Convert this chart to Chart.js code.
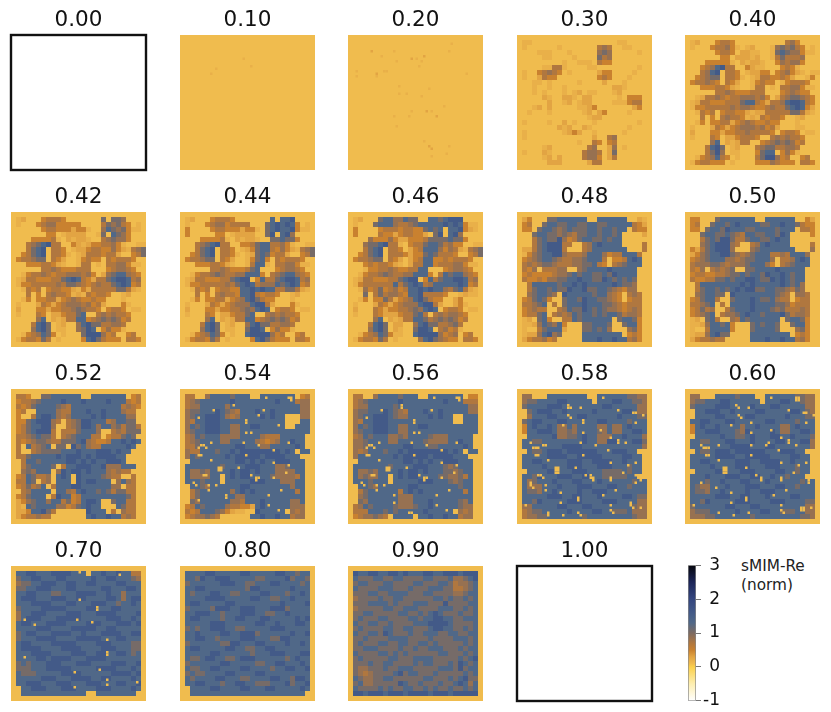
<!DOCTYPE html>
<html lang="en">
<head>
  <meta charset="UTF-8" />
  <title>sMIM-Re maps</title>
  <script src="https://cdn.jsdelivr.net/npm/chart.js"></script>
  <style>
    body { margin: 0; background: #fff; font-family: 'DejaVu Sans', sans-serif; }
    #page { position: relative; width: 831px; height: 712px; overflow: hidden; }
    canvas { position: absolute; }
    #cbarLabel { position: absolute; left: 741px; top: 557px; font-size: 15.3px; line-height: 19px; color: #222; }
  </style>
</head>
<body>
  <div id="page">
    <div id="cbarLabel">sMIM-Re<br />(norm)</div>
  </div>
  <script>
    // values, on a 27x27 grid (the original is about 54x54)
    // each digit is a level, see levelValues
    const levelValues = [0.1, 0.2, 0.3, 0.5, 0.7, 0.85, 1.05, 1.3, 1.6, 2.0];

    const cmapValues = [-1, -0.5, 0, 0.1, 0.3, 0.5, 0.7, 1, 1.3, 1.6, 2, 2.5, 3];
    const cmapColors = ['#ffffff', '#fdeeb0', '#fbd04a', '#f0bc4e', '#e2a443', '#c9812f', '#b0773f', '#7d6b62', '#506888', '#435a88', '#34467f', '#1c2558', '#05060c'];

    const colorbarTicks = [-1, 0, 1, 2, 3];

    const panelLabels = ['0.00', '0.10', '0.20', '0.30', '0.40', '0.42', '0.44', '0.46', '0.48', '0.50', '0.52', '0.54', '0.56', '0.58', '0.60', '0.70', '0.80', '0.90', '1.00'];

    const rows030 = [
      '000000000000000000000000000','011000000000000000001100000','010000001000000045400110000','000011100010000056500000100',
      '000001100001000064500000000','000000000100111043300000000','000001144100001100000000100','010034543010000023300001000',
      '010024330000000034300010000','000110100000100002000100000','000100100100000000022100000','000101000101201100012000000',
      '000002100221022000001033300','000000200120122000011134400','000120200000112300000002300','001000100000012023000010000',
      '000000000000001220000000000','010000100201000100000000100','000000002120021000000010000','010000000123200100000100000',
      '010000000000000200450000000','000000000000100430340000000','000001200000004500250100000','010002100000045540260000000',
      '000001202000045530240000000','000000222000002440000000000','000000000000000000000000000'];

    const rows040 = [
      '000000000000000000000000000','012000344300000000004530000','010003445310120001565643010','000000344302211001676553110',
      '000000033022212001464445000','000033333102122100354553000','000345784400321100034310000','000457804430122330345321011',
      '003456604431012443343200130','034454304320013433013444300','000333443210014401044553110','000000445433344400034543300',
      '001244543445554530245665430','012443334446774324457887430','013344444545543345446787320','001434034433212244444664210',
      '000403045443121434430012000','001303344234543343300010000','010002432345554534200011000','020003323344544443034430110',
      '010004302234443004545443000','000005702124400345656534000','000047860120004566445540000','000046850110003677035310000',
      '001345743010004688534003400','013443330100003335433304430','000000000000000000000000000'];

    const rows042 = [
      '000000000000000000000000000','012000344430000000606650000','010003455333330000465643010','000000344333233100576563110',
      '000000033012222001607653000','000033334102122100456553000','000456784400321233445310011','000467804430122344335321456',
      '003467804431012444344200346','034456604320013433043444300','000333443210014401044553110','000000445433344400034554300',
      '001344543445554530256775430','012443334467874324467887450','013344444546654345446787340','001434034433213244444664210',
      '000403045443121434430012000','001303344234543343300010000','010002432345554534200031000','020003323344565443034430110',
      '010004302234467004545443000','000005702124477345656534000','000047860120057866445540000','000057860110056870353310000',
      '001345763010006888534003400','013443640100003786433304430','000000000000000000000000000'];

    const rows044 = [
      '000000000000000000000000000','012000344430000000707780000','010003455344440006787873010','030000344333233106787783110',
      '030000033012222006807850000','000033334102122100667663000','000456784400334677445310011','000467804430123677435321456',
      '003467804431012676344200346','034456604320013673043444300','000333443210014771044553110','000000445433346700034554300',
      '001344565445577730456775430','012443334467880374467887450','013344444546787455576787340','001434034433778787744664210',
      '000403045443778434430012000','001303344234578643300010000','010002432345557884200031000','020003323344565787034430110',
      '010004302234467004545443000','000005702124477345656534000','000047860120057866445540000','000057860110068870353310000',
      '001345763010078888534003400','013443640100003786433304430','000000000000000000000000000'];

    const rows046 = [
      '000000000000000000000000000','012000677557660077678880000','010006777544567777787873110','030000344434433676707783210',
      '030000433234433206807850000','000053335322333466667663000','000566784410344677645330011','000467804430234777535421456',
      '003467804443233676444300346','034456604320234773343444300','000343443210244773444553110','000133445433447700034554300',
      '001344565445577730476775430','012443334467880374677887450','013444444746787457777787340','001534634534778787754674210',
      '000604645543778444430012110','001303364234578643300230000','010002432345557884200231000','020004323344565787034430110',
      '010004322234467404545543000','000005702124477645656534000','000047860220057866445640000','000057860210068870453410000',
      '001345763110078888534503400','013443640100005786543304430','000000000000000000000000000'];

    const rows048 = [
      '000000000000000000000000000','023000667777770077777700210','034006776677667766777774320','033067765676667767767704330',
      '000677665654667767767000020','000467668534677667677000000','000467888440045787777000040','022467888400045777777700040',
      '013567788544457775344777400','034567765445567774033478700','045456654445566743045677700','043504445500567777877777000',
      '034333345567677667687777000','043343556677877668767676000','004777776778787777787665000','004677676687786677654355000',
      '005677650877777677543045400','034676300677687766543034400','044567040677787776654344400','034544004576687676554345400',
      '034467045457677676776455400','012067300447677777706776300','011257657300066777600677300','010046777200066767500056300',
      '012257856000077777777034300','023445340000077787787745300','000000000000000000000000000'];

    const rows050 = [
      '000000000000000000000000000','033000677777770077777700320','034006776787777667787764330','033067768777667777677704430',
      '000677667654776677687000030','000467688644677667877000000','000567888540045787777000040','032467888500056777777700050',
      '023567788654567774454777500','034567775545667775044578700','045556654555677753045677700','043504545600667777877777000',
      '034433445667677687787677000','043344667677887668787677000','004777777778787777787675000','004677676787886677665465000',
      '005677660877777777654055400','034677400677787667544034400','044567040777787777665344400','034645004677787776564445400',
      '034567045567877677786455400','012067400547677777706776300','011257767300067677600677300','010047777300067777600056300',
      '012257866000077777777034300','023445440000077787787745300','000000000000000000000000000'];

    const rows052 = [
      '000000000000000000000000000','044300667777770077777770340','034456777787778777787774340','043467777654777777777745430',
      '034007777544777877877754400','030047887545777787877775500','033678885404568877745776600','034677885004568875775646640',
      '034678884044467775004546660','044567664045677744034467600','043456654466678543347787870','040745670660867544777778700',
      '040045666677787778887877000','044677777878887878888770000','004776777778878787788870000','004677776047788877855577700',
      '005657770587887877754544000','034764450787087777654400400','044760450777087887770575400','034645704777887777775504400',
      '004577770775478776764664400','034677704877347777777776400','023567757746347887006774400','021767777553467877000764400',
      '022377864000000877704054400','023445440000000787787745400','000000000000000000000000000'];

    const rows054 = [
      '000000000000000000000000000','044005777767770077777770340','045677777787777777787774550','045577777577777777777777550',
      '056677787654777877877777550','056778887545777787877000550','054778887777777777777000770','057678887755778877777007770',
      '056778887755777777777777770','045767775555777754447777700','045677775577777543457787700','044677777778877755777778700',
      '054477767787888888887870770','057677777878888878888777000','007777777778878787788877700','077777776777788877755677700',
      '075565777787887877755557700','075555770787887777655554700','077767770777778887775557700','007765777777887777777757700',
      '004677777757878777777774700','004677777775577777777777700','006577777755477787777755700','034767777544332787777755500',
      '043477765321100877777054500','034556540000007787787745500','000000000000000000000000000'];

    const rows056 = [
      '000000000000000000000000000','044005777767770077777770330','045677777787777777787774440','045577777677777777777777550',
      '056677787654777877877777550','056778887655777787877007770','054778887777777777777007770','057678887755778877777777770',
      '056778887755777777777777770','045767775565777765557777700','055677775577777655557787700','055677777778877766777778700',
      '054577767787888888887870770','057777777878888878888777000','007777777778878787788877700','077777776777788877765677700',
      '075565777787887877766567700','075655770787887777665564700','077767770777778887776567700','007765777777887777777767700',
      '004677777747878777777774700','005677777755577777777777700','006577777755577787777765700','045767777655567787777765500',
      '044477767677777877777054500','034556540777707787787745500','000000000000000000000000000'];

    const rows058 = [
      '000000000000000000000000000','055000777777770077777766550','056677778877777077788776650','067777888777777778877777550',
      '006788877877777877777887550','005777887777887777778777660','067887778877777788777767770','037877875575777755755787770',
      '037788875565777765755778870','007777785566787755577877750','077667777777787755887778860','077777777888877777777777750',
      '007667888788888877788877000','077777888877888887777887700','077887777788877888877877700','077778777788877788877767700',
      '007777887778887776666767700','077687778887788776666677000','075677787778877787777776770','075557778777888777887767770',
      '076657787777877888777777770','077777888778877787777887660','077687777788877778887777550','055777778877788777777776550',
      '045667777787777887766675550','045566777777767777777776550','000000000000000000000000000'];

    const rows060 = [
      '000000000000000000000000000','055000777767770077777766550','056677788777777077788776550','067777888777787778877777550',
      '007788877877778877777887650','007777887777887777778777660','077887778877777788777767770','037877877775778777755787770',
      '037788877765877778755778870','007777787766787778877877760','077667778877787777887778850','077777777888877788777777750',
      '007667888788888877788877000','077777888877888887777887700','077887777788877888877877700','077778777788877788877767700',
      '007777887778887777887767700','077787778887788778776777000','077767787778877787777776770','076557778777888777887767770',
      '076657787777877888777777770','077777888778877787777887770','077687777788877778887777660','067777778877788777777777550',
      '056667777787777887766677550','055566777777767777777776650','000000000000000000000000000'];

    const rows070 = [
      '000000000000000000000000000','077887778888777077877877440','067788777887777787788777650','056677888778877887777887770',
      '066778887778877777887778870','077887776677788887787757770','078887778887788777788757880','077788887778877788877677870',
      '067777888887777887778877770','057788877778887778888777780','057888777888887777788877870','078877788887777888777888780',
      '077778887777888887788777770','067887778888778777888877880','067778888777788888777887770','078877778888877778887777660',
      '078888777788887777888777660','077788887777888778877887670','077778878888777888877777770','067677788877788877778887780',
      '066677788888777778888777870','076667777788887777778888780','077777888777888877887777870','077888777888777888777887780',
      '007788877788877778887777870','007777777777777007777777700','000000000000000000000000000'];

    const rows080 = [
      '000000000000000000000000000','077778877777887777788776770','077687788877777667777867760','067777778887766777887777670',
      '077887777777768877777787770','076777887766777788777677870','077778888777778877667787770','078877777887777777778777780',
      '067777688877888777888677770','077888776777888776677877770','078877776778877788777778780','077777888777777887787778870',
      '067677888776677777888777770','077877778877888677777787780','077887767777888777668877770','067777776688777887777877870',
      '078877777887766778877777770','077777887777776777888777880','076678877667888777777678770','067777778877777667788777870',
      '076677887777887777677887780','067667777887777887777777770','076777788777667777887768870','077887776778877666777867780',
      '007777887777887778877777870','007777777777777777777777700','000000000000000000000000000'];

    const rows090 = [
      '000000000000000000000000000','087788778878777887788878880','076667766776666776667556780','067766677666677666776455670',
      '076666777666766677766445670','066677667777666776666556770','056666766776666667767667670','066677776766677766686666770',
      '056666677667776666777667670','066776666677667678766676670','067666776666776778877667770','076677667666677788887666670',
      '067666677667766678877667670','076677687666766777667766770','066766667777666676666777670','067666776677667767666667670',
      '066777666676676677766676770','076666776767666666776667670','067666667766677776666676780','066676677666676776667687670',
      '065566676677766666777686770','065456666786776667666667670','076556677666666776667678660','067556666687667666766787570',
      '076666767667766767667667670','088788878887888878887888880','000000000000000000000000000'];

    // single cells on the fine 54x54 grid: col, row, level
    const dots010 = [[12, 15, 1], [14, 13, 1], [25, 9, 1], [28, 12, 1]];
    const dots020 = [[41, 3, 1], [40, 6, 1], [9, 6, 2], [13, 8, 1], [18, 6, 1], [19, 10, 1], [25, 9, 2], [27, 9, 1], [30, 8, 2], [29, 10, 1], [28, 12, 1],
      [3, 14, 1], [3, 16, 1], [11, 15, 2], [11, 16, 1], [14, 14, 1], [15, 14, 1], [47, 15, 1], [20, 20, 1], [20, 23, 1], [23, 23, 1], [32, 21, 1], [29, 24, 1],
      [38, 28, 1], [25, 30, 1], [24, 32, 1], [31, 30, 2], [33, 30, 1], [35, 32, 2], [18, 32, 1], [19, 36, 1], [30, 42, 1], [32, 44, 2], [33, 45, 2], [40, 44, 1], [39, 47, 1], [33, 48, 1]];
    const dots054 = [[34, 3, 0], [43, 3, 0], [44, 3, 0], [44, 4, 0], [13, 8, 0], [33, 8, 0], [21, 6, 0], [7, 11, 0], [31, 10, 0], [26, 12, 0], [26, 13, 0], [26, 17, 0], [28, 17, 0],
      [39, 14, 0], [25, 21, 0], [31, 22, 0], [43, 21, 0], [12, 21, 0], [8, 22, 0], [9, 22, 0], [10, 23, 0], [7, 23, 0], [37, 24, 0], [7, 26, 0], [8, 26, 0], [26, 26, 0], [12, 28, 0],
      [37, 29, 0], [43, 30, 0], [15, 31, 0], [16, 31, 0], [15, 32, 0], [16, 32, 0], [23, 31, 0], [42, 33, 0], [28, 34, 0], [30, 35, 0], [31, 35, 0], [30, 36, 0], [37, 35, 0], [9, 34, 0], [10, 34, 0],
      [5, 37, 0], [6, 38, 0], [11, 38, 0], [14, 38, 0], [11, 40, 0], [18, 42, 0], [35, 42, 0], [40, 40, 0], [7, 44, 0], [18, 43, 0], [35, 46, 0], [39, 48, 0], [50, 47, 0]];
    const dots056 = [[34, 3, 0], [43, 3, 0], [44, 3, 0], [44, 4, 0], [13, 8, 0], [33, 8, 0], [21, 6, 0], [21, 7, 0], [7, 11, 0], [26, 12, 0], [26, 13, 0], [26, 17, 0], [28, 17, 0],
      [25, 21, 0], [31, 22, 0], [43, 21, 0], [12, 21, 0], [8, 22, 0], [9, 22, 0], [10, 23, 0], [7, 23, 0], [37, 24, 0], [7, 26, 0], [8, 26, 0], [26, 26, 0], [12, 28, 0],
      [37, 29, 0], [43, 30, 0], [15, 31, 0], [16, 31, 0], [15, 32, 0], [16, 32, 0], [23, 31, 0], [42, 33, 0], [28, 34, 0], [30, 35, 0], [31, 35, 0], [30, 36, 0], [37, 35, 0], [9, 34, 0], [10, 34, 0],
      [5, 37, 0], [6, 38, 0], [11, 38, 0], [14, 38, 0], [11, 40, 0], [18, 42, 0], [35, 42, 0], [40, 40, 0], [18, 45, 0], [35, 46, 0], [39, 48, 0], [50, 47, 0], [24, 49, 0], [25, 49, 0]];
    const dots058 = [[34, 3, 0], [20, 6, 0], [20, 7, 0], [21, 7, 0], [25, 7, 0], [40, 8, 0], [20, 10, 0], [21, 11, 0], [26, 12, 0], [26, 13, 0], [18, 14, 0], [50, 10, 0], [46, 9, 0], [47, 9, 0], [47, 13, 0],
      [26, 17, 0], [33, 16, 0], [37, 19, 0], [40, 20, 0], [40, 21, 0], [43, 21, 0], [25, 21, 0], [31, 22, 0], [5, 21, 0], [10, 22, 0], [11, 22, 0], [6, 23, 0], [7, 23, 0], [8, 23, 0], [36, 24, 0], [26, 26, 0],
      [7, 26, 0], [8, 26, 0], [37, 29, 0], [12, 28, 0], [44, 30, 0], [47, 29, 0], [15, 31, 0], [16, 31, 0], [15, 32, 0], [16, 32, 0], [15, 33, 0], [16, 33, 0], [23, 31, 0], [27, 34, 0], [29, 34, 0], [29, 35, 0], [30, 35, 0], [30, 36, 0],
      [37, 35, 0], [37, 36, 0], [42, 33, 0], [8, 34, 0], [9, 34, 0], [10, 35, 0], [47, 37, 0], [47, 34, 0], [48, 34, 0], [49, 34, 0], [50, 34, 0], [49, 35, 0], [49, 36, 0], [5, 37, 0], [5, 38, 0], [6, 39, 0], [11, 38, 0], [11, 40, 0],
      [17, 41, 0], [34, 42, 0], [39, 40, 0], [24, 43, 0], [24, 44, 0], [17, 45, 0], [37, 46, 0], [3, 46, 0], [37, 48, 0], [38, 49, 0], [12, 49, 0], [12, 50, 0], [18, 50, 0], [24, 49, 0], [25, 50, 0], [45, 45, 0], [45, 46, 0], [46, 47, 0], [49, 47, 0]];
    const dots060 = [[34, 3, 0], [44, 3, 0], [45, 3, 0], [44, 4, 0], [45, 4, 0], [20, 6, 0], [21, 7, 0], [25, 7, 0], [41, 8, 0], [21, 10, 0], [22, 11, 0], [26, 13, 0], [18, 14, 0], [51, 10, 0], [47, 9, 0], [48, 9, 0], [48, 13, 0],
      [26, 17, 0], [34, 16, 0], [38, 19, 0], [41, 20, 0], [41, 21, 0], [44, 22, 0], [26, 22, 0], [32, 22, 0], [33, 21, 0], [6, 22, 0], [13, 22, 0], [7, 23, 0], [8, 23, 0], [9, 23, 0], [37, 24, 0], [26, 26, 0],
      [8, 26, 0], [9, 26, 0], [38, 29, 0], [13, 28, 0], [45, 30, 0], [48, 29, 0], [15, 31, 0], [16, 31, 0], [15, 32, 0], [16, 32, 0], [15, 33, 0], [16, 33, 0], [24, 31, 0], [28, 34, 0], [30, 35, 0], [30, 36, 0],
      [38, 35, 0], [38, 36, 0], [43, 33, 0], [48, 35, 0], [49, 35, 0], [50, 35, 0], [49, 36, 0], [49, 37, 0], [6, 37, 0], [12, 39, 0], [18, 41, 0], [35, 42, 0], [40, 40, 0], [24, 43, 0], [24, 44, 0], [18, 45, 0], [38, 46, 0], [3, 46, 0],
      [38, 48, 0], [39, 49, 0], [46, 47, 0], [47, 47, 0], [46, 48, 0], [47, 48, 0], [13, 49, 0], [19, 50, 0], [25, 49, 0], [50, 47, 0]];
    const dots070 = [[43, 3, 0], [27, 13, 0], [34, 16, 0], [34, 17, 0], [5, 21, 0], [26, 21, 0], [9, 23, 0], [32, 22, 0], [38, 29, 0], [38, 34, 0], [38, 35, 0], [5, 36, 0],
      [35, 41, 0], [25, 42, 0], [38, 45, 0], [38, 47, 0], [50, 46, 0], [25, 48, 0], [27, 2, 0], [31, 2, 0]];

    const panelRows = [null, [], [], rows030, rows040, rows042, rows044, rows046, rows048, rows050, rows052, rows054, rows056, rows058, rows060, rows070, rows080, rows090, null];
    const panelDots = [[], dots010, dots020, [], [], [], [], [], [], [], [], dots054, dots056, dots058, dots060, dots070, [], [], []];

    const gridSize = 27;
    const panelSize = 135;
    const titleHeight = 29;
    const pad = 3;
    const columnLefts = [11, 180, 348, 517, 685];
    const rowTops = [35, 212, 389, 566];

    function hexToRgb(hex) {
      return [1, 3, 5].map(i => parseInt(hex.slice(i, i + 2), 16));
    }

    function valueToColor(v) {
      let i = 0;
      while (i < cmapValues.length - 2 && v > cmapValues[i + 1]) i++;
      const t = (v - cmapValues[i]) / (cmapValues[i + 1] - cmapValues[i]);
      const a = hexToRgb(cmapColors[i]);
      const b = hexToRgb(cmapColors[i + 1]);
      const c = a.map((x, k) => Math.round(x + (b[k] - x) * t));
      return `rgb(${c[0]},${c[1]},${c[2]})`;
    }

    function rowsToCells(rows) {
      const cells = [];
      for (let r = 0; r < gridSize; r++) {
        for (let c = 0; c < gridSize; c++) {
          const level = Number((rows[r] || '')[c] || 0);
          cells.push({ x: c + 0.5, y: r + 0.5, v: levelValues[level] });
        }
      }
      return cells;
    }

    function dotsToCells(dots) {
      return dots.map(d => ({ x: (d[0] + 0.5) / 2, y: (d[1] + 0.5) / 2, v: levelValues[d[2]] }));
    }

    // radius of the rect point style so that the square fills one grid step
    function cellRadius(chart, step) {
      const s = chart.scales.x;
      return Math.abs(s.getPixelForValue(step) - s.getPixelForValue(0)) / Math.SQRT2;
    }

    const framePlugin = {
      id: 'frame',
      afterDraw(chart, args, opts) {
        if (!opts.show) return;
        const a = chart.chartArea;
        chart.ctx.save();
        chart.ctx.strokeStyle = '#111';
        chart.ctx.lineWidth = 2.4;
        chart.ctx.strokeRect(a.left, a.top, a.right - a.left, a.bottom - a.top);
        chart.ctx.restore();
      }
    };

    const page = document.getElementById('page');

    function addCanvas(left, top, width, height) {
      const canvas = document.createElement('canvas');
      canvas.width = width;
      canvas.height = height;
      canvas.style.left = left + 'px';
      canvas.style.top = top + 'px';
      canvas.style.width = width + 'px';
      canvas.style.height = height + 'px';
      page.appendChild(canvas);
      return canvas;
    }

    function drawPanel(index) {
      const col = index < 15 ? index % 5 : index - 15;
      const row = index < 15 ? Math.floor(index / 5) : 3;
      const left = columnLefts[col];
      const rows = panelRows[index];
      const canvas = addCanvas(left - pad, rowTops[row] - titleHeight, panelSize + pad * 2, panelSize + titleHeight + pad);
      // the dataset level context has no raw value, only the point level one has
      const pointColor = ctx => ctx.raw ? valueToColor(ctx.raw.v) : '#f0bc4e';
      new Chart(canvas, {
        type: 'scatter',
        data: {
          datasets: rows ? [
            { data: dotsToCells(panelDots[index]), pointStyle: 'rect', pointBorderWidth: 0, pointBackgroundColor: pointColor, pointRadius: ctx => cellRadius(ctx.chart, 0.5) },
            { data: rowsToCells(rows), pointStyle: 'rect', pointBorderWidth: 0, pointBackgroundColor: pointColor, pointRadius: ctx => cellRadius(ctx.chart, 1) }
          ] : []
        },
        options: {
          responsive: false,
          animation: false,
          events: [],
          layout: { padding: { left: pad, right: pad, bottom: pad, top: 0 } },
          scales: {
            x: { type: 'linear', min: 0, max: gridSize, display: false },
            y: { type: 'linear', min: 0, max: gridSize, reverse: true, display: false }
          },
          plugins: {
            legend: { display: false },
            tooltip: { enabled: false },
            frame: { show: !rows },
            title: {
              display: true,
              text: panelLabels[index],
              color: '#111',
              font: { family: 'DejaVu Sans', size: 21.5, weight: 'normal', lineHeight: '25px' },
              padding: { top: 2, bottom: 2 }
            }
          }
        },
        plugins: [framePlugin]
      });
    }

    panelLabels.forEach((label, i) => drawPanel(i));

    // colorbar: one floating bar over the full range, filled from the same color stops
    new Chart(addCanvas(680, 552, 40, 162), {
      type: 'bar',
      data: {
        labels: ['sMIM-Re'],
        datasets: [{
          data: [[colorbarTicks[0], colorbarTicks[colorbarTicks.length - 1]]],
          barPercentage: 1,
          categoryPercentage: 1,
          borderWidth: 1,
          borderSkipped: false,
          borderColor: '#888',
          backgroundColor: ctx => {
            const chart = ctx.chart;
            if (!chart.chartArea) return '#888';
            const y = chart.scales.y;
            const g = chart.ctx.createLinearGradient(0, y.getPixelForValue(-1), 0, y.getPixelForValue(3));
            cmapValues.forEach((v, i) => g.addColorStop((v + 1) / 4, cmapColors[i]));
            return g;
          }
        }]
      },
      options: {
        responsive: false,
        animation: false,
        events: [],
        layout: { padding: { left: 8, top: 12, bottom: 12, right: 0 } },
        scales: {
          x: { display: false },
          y: {
            position: 'right',
            min: -1,
            max: 3,
            // far aligned labels end on the right edge of the scale box
            afterFit: scale => { scale.width = 24; },
            border: { display: false },
            grid: { drawOnChartArea: false, tickLength: 5, tickColor: '#777', tickWidth: 1 },
            ticks: { stepSize: 1, padding: 3, crossAlign: 'far', color: '#111', font: { family: 'DejaVu Sans', size: 17 } }
          }
        },
        plugins: { legend: { display: false }, tooltip: { enabled: false } }
      }
    });
  </script>
</body>
</html>
